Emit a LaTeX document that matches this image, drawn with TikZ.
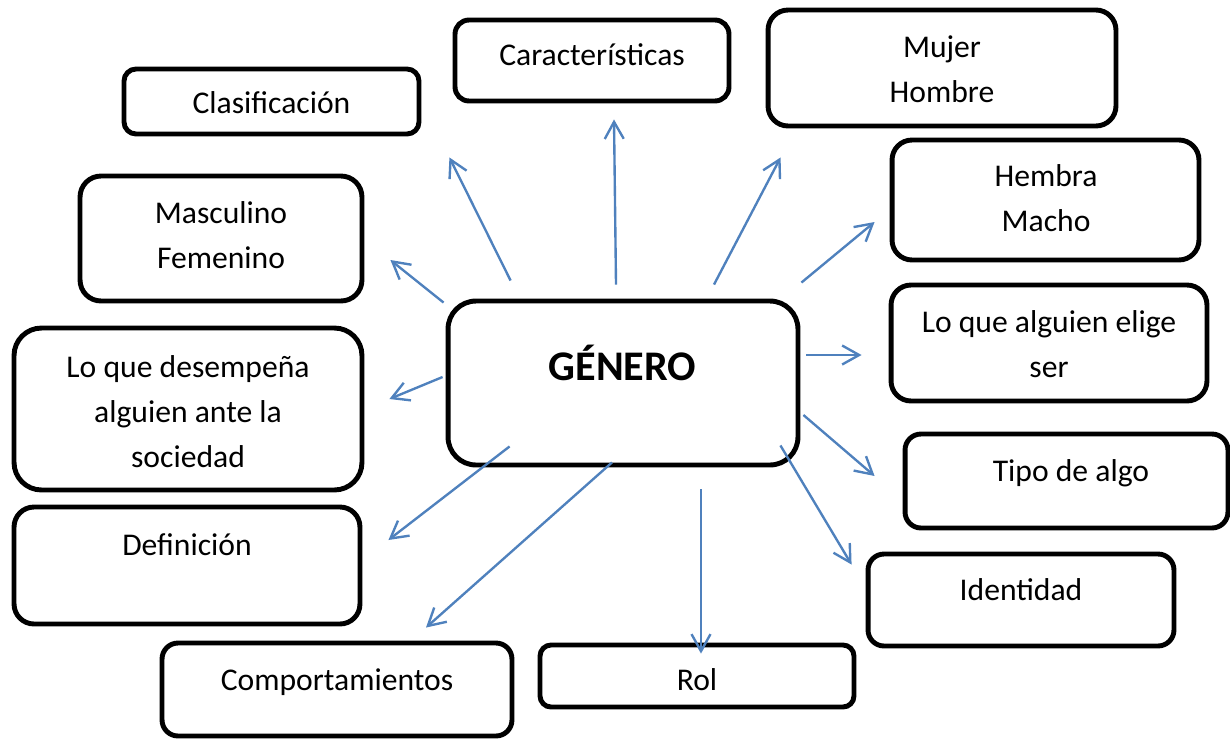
\documentclass[tikz,border=0pt]{standalone}
\usepackage{fontspec}
\setmainfont{Carlito}
\usetikzlibrary{arrows.meta, positioning, calc}
\definecolor{LinkBlue}{RGB}{79, 129, 189}

\begin{document}
\begin{tikzpicture}[x=0.02cm, y=-0.02cm,
    box/.style={draw=black, line width=2.8pt, fill=white, rounded corners=#1, inner sep=0pt},
    box/.default=0.3cm,
    lbl/.style={font=\fontsize{18}{25.6}\selectfont, align=center, anchor=base, inner sep=0pt},
    link/.style={draw=LinkBlue, line width=1.35pt, -{Straight Barb[length=3.4mm, width=3.8mm]}}]
    \useasboundingbox (0,0) rectangle (1230,738);
    % boxes
    \node[box=0.24cm, minimum width=5.90cm, minimum height=1.30cm] (clas) at (271.5,101.5) {};
    \node[box=0.28cm, minimum width=5.48cm, minimum height=1.62cm] (carac) at (592,60.5) {};
    \node[box=0.40cm, minimum width=6.96cm, minimum height=2.32cm] (mujer) at (942,68) {};
    \node[box=0.42cm, minimum width=5.64cm, minimum height=2.50cm] (masc) at (221,238.5) {};
    \node[box=0.40cm, minimum width=6.14cm, minimum height=2.40cm] (hembra) at (1045.5,200) {};
    \node[box=0.40cm, minimum width=6.32cm, minimum height=2.32cm] (elige) at (1049,343) {};
    \node[box=0.56cm, minimum width=7.00cm, minimum height=3.28cm] (gen) at (623,383) {};
    \node[box=0.55cm, minimum width=6.96cm, minimum height=3.24cm] (desemp) at (188,409) {};
    \node[box=0.32cm, minimum width=6.46cm, minimum height=1.88cm] (tipo) at (1066.5,481) {};
    \node[box=0.40cm, minimum width=6.92cm, minimum height=2.34cm] (defin) at (187,565.5) {};
    \node[box=0.32cm, minimum width=6.12cm, minimum height=1.84cm] (ident) at (1021,600) {};
    \node[box=0.32cm, minimum width=7.00cm, minimum height=1.86cm] (comp) at (337,689.5) {};
    \node[box=0.22cm, minimum width=6.28cm, minimum height=1.24cm] (rol) at (697,676) {};
    % texts (base = last line)
    \node[lbl] (clas-t) at (271.5,113) {Clasificación};
    \node[lbl] (carac-t) at (592,65) {Características};
    \node[lbl] (mujer-t) at (942,102) {Mujer\\Hombre};
    \node[lbl] (masc-t) at (221,268) {Masculino\\Femenino};
    \node[lbl] (hembra-t) at (1046,231) {Hembra\\Macho};
    \node[lbl] (elige-t) at (1049,377) {Lo que alguien elige\\ser};
    \node[lbl, font=\bfseries\fontsize{24}{28}\selectfont] (gen-t) at (622.5,380) {GÉNERO};
    \node[lbl] (desemp-t) at (188,467) {Lo que desempeña\\alguien ante la\\sociedad};
    \node[lbl] (tipo-t) at (1071,481) {Tipo de algo};
    \node[lbl] (defin-t) at (187,555) {Definición};
    \node[lbl] (ident-t) at (1021,600) {Identidad};
    \node[lbl] (comp-t) at (337,690) {Comportamientos};
    \node[lbl] (rol-t) at (697,690) {Rol};
    % arrows
    \draw[link] ([shift={(65,-18)}]gen.north west) -- ([shift={(28,21)}]clas.south east);
    \draw[link] ([shift={(-7,-14)}]gen.north) -- ([shift={(22,16)}]carac.south);
    \draw[link] ([shift={(91,-14)}]gen.north) -- ([shift={(15,29)}]mujer.south west);
    \draw[link] ([shift={(1,-16)}]gen.north east) -- ([shift={(-15,22)}]hembra.west);
    \draw[link] ([shift={(6,-28)}]gen.east) -- ([shift={(-27,12)}]elige.west);
    \draw[link] ([shift={(3,32)}]gen.east) -- ([shift={(-28,-5)}]tipo.west);
    \draw[link] ([shift={(-20,-22)}]gen.south east) -- ([shift={(-14,13)}]ident.north west);
    \draw[link] ([shift={(78,22)}]gen.south) -- ([shift={(4,11)}]rol.north);
    \draw[link] ([shift={(-11,-5)}]gen.south) -- ([shift={(89,-13)}]comp.north);
    \draw[link] ([shift={(64,-21)}]gen.south west) -- ([shift={(26,-25.5)}]defin.east);
    \draw[link] ([shift={(-3,-6)}]gen.west) -- ([shift={(25,-10)}]desemp.east);
    \draw[link] ([shift={(-2,4)}]gen.north west) -- ([shift={(26,21.5)}]masc.east);
\end{tikzpicture}
\end{document}
